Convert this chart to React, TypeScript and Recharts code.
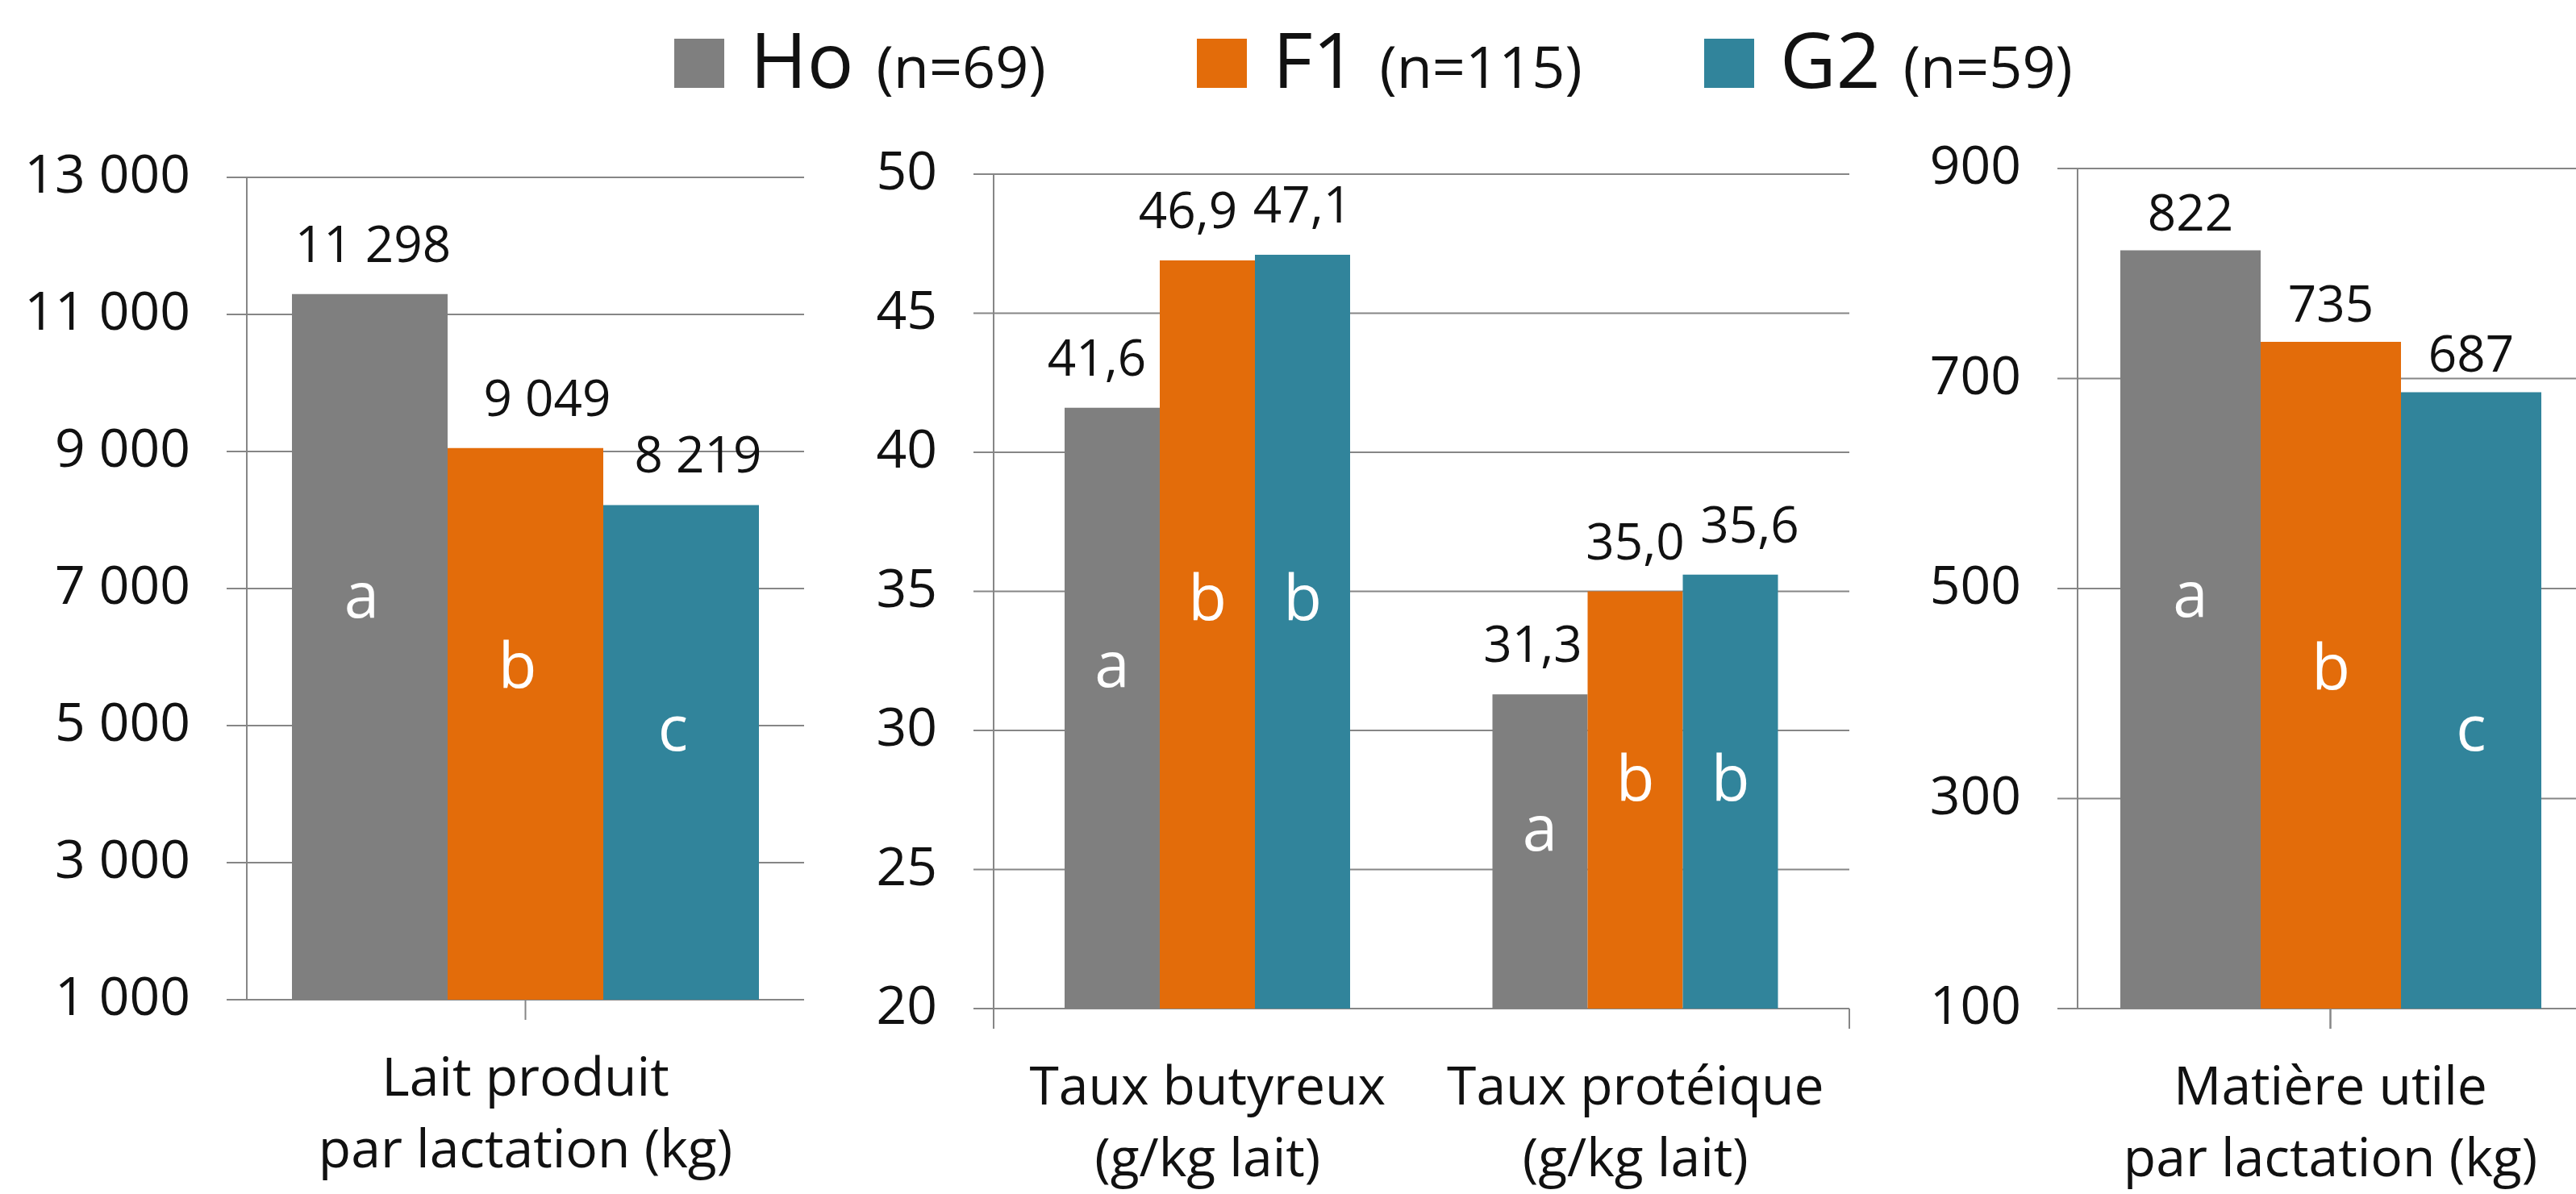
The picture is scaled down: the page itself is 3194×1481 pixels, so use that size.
import React from 'react';
import { BarChart, Bar, XAxis, YAxis, CartesianGrid, LabelList } from 'recharts';

// ---------- data ----------
const seriesKeys = ['ho', 'f1', 'g2'];
const seriesNames = ['Ho', 'F1', 'G2'];
const seriesCounts = ['(n=69)', '(n=115)', '(n=59)'];

const laitCategories = ['Lait produit\npar lactation (kg)'];
const laitHo = [11298];
const laitF1 = [9049];
const laitG2 = [8219];
const laitTicks = [1000, 3000, 5000, 7000, 9000, 11000, 13000];
const laitLettersHo = ['a'];
const laitLettersF1 = ['b'];
const laitLettersG2 = ['c'];

const tauxCategories = ['Taux butyreux\n(g/kg lait)', 'Taux protéique\n(g/kg lait)'];
const tauxHo = [41.6, 31.3];
const tauxF1 = [46.9, 35.0];
const tauxG2 = [47.1, 35.6];
const tauxTicks = [20, 25, 30, 35, 40, 45, 50];
const tauxLettersHo = ['a', 'a'];
const tauxLettersF1 = ['b', 'b'];
const tauxLettersG2 = ['b', 'b'];

const muCategories = ['Matière utile\npar lactation (kg)'];
const muHo = [822];
const muF1 = [735];
const muG2 = [687];
const muTicks = [100, 300, 500, 700, 900];
const muLettersHo = ['a'];
const muLettersF1 = ['b'];
const muLettersG2 = ['c'];

// ---------- annotation anchors ----------
// letter baseline, in axis units
const laitLetterLevels = [[6576], [5553], [4635]];
const tauxLetterLevels = [[31.57, 25.68], [33.97, 27.48], [33.97, 27.48]];
const muLetterLevels = [[473], [404], [346]];
// horizontal nudges of the value labels (px), per series
const laitLabelDx = [[4], [27], [21]];
const tauxLabelDx = [[-19, -9], [-24, 0], [0, 24]];
const muLabelDx = [[0], [0], [0]];

// ---------- style ----------
const FONT = '"Open Sans", sans-serif';
const COLORS = ['#7F7F7F', '#E36C0A', '#31849B'];
const GRID = '#868686';
const TEXT = '#111';
const H = 1481;

const fmtThousands = (v: number) =>
  String(Math.round(v)).replace(/\B(?=(\d{3})+(?!\d))/g, ' ');
const fmtDecimal = (v: number) => Number(v).toFixed(1).replace('.', ',');
const fmtInt = (v: number) => String(Math.round(v));

const CategoryTick = (props: any) => {
  const { x, y, payload } = props;
  const lines = String(payload.value).split('\n');
  return (
    <text x={x} y={y} textAnchor="middle" fontFamily={FONT} fontSize={66} fill={TEXT}>
      {lines.map((l, i) => (
        <tspan key={i} x={x} y={y + 94 + i * 89}>
          {l}
        </tspan>
      ))}
    </text>
  );
};

const NoTick = () => <g />;

function letterContent(letters: string[], levels: number[], values: number[], base: number, dx: number) {
  return (props: any) => {
    const vb = props.viewBox ?? props;
    const i = props.index ?? 0;
    const v = values[i];
    const { x, y, width, height } = vb;
    if (x == null || height == null) return null;
    const pxPerUnit = height / (v - base);
    const yy = y + height - (levels[i] - base) * pxPerUnit;
    return (
      <text x={x + width / 2 + dx} y={yy} textAnchor="middle" fontFamily={FONT} fontSize={78} fill="#fff">
        {letters[i]}
      </text>
    );
  };
}

function valueContent(fmt: (v: number) => string, values: number[], dxs: number[], offset: number) {
  return (props: any) => {
    const vb = props.viewBox ?? props;
    const i = props.index ?? 0;
    const { x, y, width } = vb;
    if (x == null) return null;
    return (
      <text
        x={x + width / 2 + (dxs[i] ?? 0)}
        y={y - offset}
        textAnchor="middle"
        fontFamily={FONT}
        fontSize={62}
        fill={TEXT}
      >
        {fmt(values[i])}
      </text>
    );
  };
}

type PanelProps = {
  left: number;
  width: number;
  top: number;
  bottom: number;
  yWidth: number;
  rightMargin: number;
  categories: string[];
  values: number[][];
  letters: string[][];
  levels: number[][];
  labelDx: number[][];
  ticks: number[];
  tickFmt: (v: number) => string;
  fmt: (v: number) => string;
  barSize: number;
  boundTicks: number[];
  labelOffset: number;
  letterDx: number;
};

function Panel(p: PanelProps) {
  const data = p.categories.map((c, i) => ({
    cat: c,
    ho: p.values[0][i],
    f1: p.values[1][i],
    g2: p.values[2][i],
  }));
  const base = p.ticks[0];
  const axisH = 25 + 200;
  return (
    <div style={{ position: 'absolute', left: p.left, top: 0, width: p.width, height: H }}>
      <BarChart
        width={p.width}
        height={H}
        data={data}
        margin={{ top: p.top, right: p.rightMargin, left: 0, bottom: H - p.bottom - axisH }}
        barGap={0}
        barSize={p.barSize}
      >
        <CartesianGrid vertical={false} stroke={GRID} strokeWidth={2} xAxisId="cat" yAxisId="v" />
        <XAxis
          xAxisId="bnd"
          type="number"
          domain={[0, p.categories.length]}
          ticks={p.boundTicks}
          allowDataOverflow
          axisLine={false}
          tickLine={{ stroke: GRID, strokeWidth: 2 }}
          tickSize={25}
          tick={NoTick}
          height={25}
          interval={0}
        />
        <XAxis
          xAxisId="cat"
          dataKey="cat"
          axisLine={false}
          tickLine={false}
          tickSize={0}
          tickMargin={0}
          height={200}
          interval={0}
          tick={<CategoryTick />}
        />
        <YAxis
          yAxisId="v"
          width={p.yWidth}
          domain={[p.ticks[0], p.ticks[p.ticks.length - 1]]}
          ticks={p.ticks}
          interval={0}
          tickFormatter={p.tickFmt}
          axisLine={{ stroke: GRID, strokeWidth: 2 }}
          tickLine={{ stroke: GRID, strokeWidth: 2 }}
          tickSize={25}
          tickMargin={45}
          tick={{ fontSize: 66, fill: TEXT, fontFamily: FONT, dy: -4 }}
        />
        {seriesKeys.map((k, si) => (
          <Bar key={k} dataKey={k} xAxisId="cat" yAxisId="v" fill={COLORS[si]} isAnimationActive={false}>
            <LabelList dataKey={k} content={valueContent(p.fmt, p.values[si], p.labelDx[si], p.labelOffset)} />
            <LabelList
              dataKey={k}
              content={letterContent(p.letters[si], p.levels[si], p.values[si], base, p.letterDx)}
            />
          </Bar>
        ))}
      </BarChart>
    </div>
  );
}

const legendX = [836, 1484, 2113];

function Legend() {
  return (
    <>
      {seriesNames.map((name, i) => (
        <div
          key={name}
          style={{
            position: 'absolute',
            left: legendX[i],
            top: 24,
            display: 'flex',
            alignItems: 'baseline',
            fontFamily: FONT,
            color: TEXT,
            whiteSpace: 'nowrap',
          }}
        >
          <span style={{ display: 'inline-block', width: 62, height: 61, background: COLORS[i], marginRight: 32 }} />
          <span style={{ fontSize: 96, lineHeight: '96px', marginRight: 28 }}>{name}</span>
          <span style={{ fontSize: 72, lineHeight: '72px' }}>{seriesCounts[i]}</span>
        </div>
      ))}
    </>
  );
}

export default function App() {
  return (
    <div
      style={{
        position: 'fixed',
        left: 0,
        top: 0,
        width: 3194,
        height: H,
        overflow: 'hidden',
        background: '#fff',
      }}
    >
      <Legend />
      <Panel
        left={0}
        width={1010}
        top={220}
        bottom={1240}
        yWidth={306}
        rightMargin={13}
        categories={laitCategories}
        values={[laitHo, laitF1, laitG2]}
        letters={[laitLettersHo, laitLettersF1, laitLettersG2]}
        levels={laitLetterLevels}
        labelDx={laitLabelDx}
        ticks={laitTicks}
        tickFmt={fmtThousands}
        fmt={fmtThousands}
        barSize={193}
        boundTicks={[0]}
        labelOffset={40}
        letterDx={-10}
      />
      <Panel
        left={1010}
        width={1300}
        top={216}
        bottom={1251}
        yWidth={222}
        rightMargin={17}
        categories={tauxCategories}
        values={[tauxHo, tauxF1, tauxG2]}
        letters={[tauxLettersHo, tauxLettersF1, tauxLettersG2]}
        levels={tauxLetterLevels}
        labelDx={tauxLabelDx}
        ticks={tauxTicks}
        tickFmt={fmtInt}
        fmt={fmtDecimal}
        barSize={118}
        boundTicks={[0, 1, 2]}
        labelOffset={40}
        letterDx={0}
      />
      <Panel
        left={2310}
        width={913}
        top={209}
        bottom={1251}
        yWidth={266}
        rightMargin={20}
        categories={muCategories}
        values={[muHo, muF1, muG2]}
        letters={[muLettersHo, muLettersF1, muLettersG2]}
        levels={muLetterLevels}
        labelDx={muLabelDx}
        ticks={muTicks}
        tickFmt={fmtInt}
        fmt={fmtInt}
        barSize={174}
        boundTicks={[0, 1]}
        labelOffset={25}
        letterDx={0}
      />
    </div>
  );
}
